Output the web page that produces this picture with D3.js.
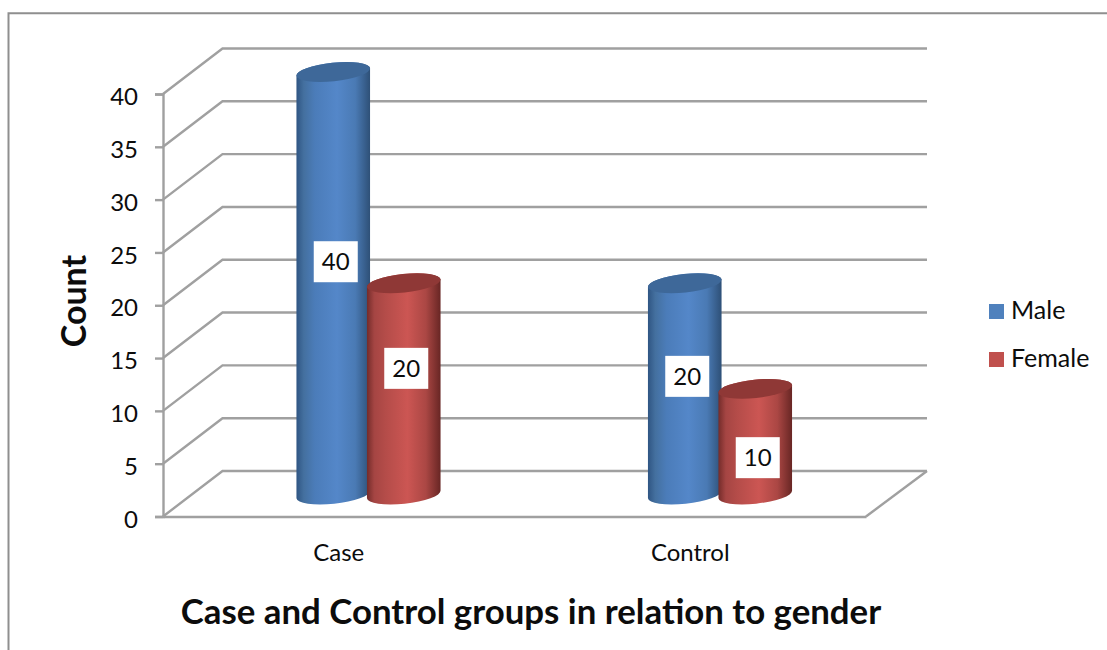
<!DOCTYPE html>
<html>
<head>
  <meta charset="utf-8">
  <script src="https://d3js.org/d3.v7.min.js"></script>
  <style>
    html, body { margin: 0; padding: 0; background: #fff; }
    svg { display: block; }
    text { font-family: Lato, "Open Sans", sans-serif; fill: #0c0c0c; }
  </style>
</head>
<body>
<script>
  var categories = ["Case", "Control"];
  var seriesNames = ["Male", "Female"];
  var male = [40, 20];
  var female = [20, 10];
  var yTicks = [0, 5, 10, 15, 20, 25, 30, 35, 40];

  var width = 1107, height = 650;

  // floor depth: how far the back wall sits from the front plane
  var depthX = 59.5, depthY = -45.5;
  var backRight = 927;
  var lineColor = "#a0a0a0";
  var colors = {
    Male: { cap: "#3e6899", swatch: "#4f81bd", stops: ["#2f5583", "#44709f", "#4b7cb9", "#5487c9", "#4a7ab4", "#2e5077"] },
    Female: { cap: "#8f3836", swatch: "#c0504d", stops: ["#742c2a", "#a54543", "#b44c49", "#cc5653", "#ab4744", "#682624"] }
  };

  var svg = d3.select("body").append("svg")
      .attr("width", width)
      .attr("height", height);

  var y = d3.scaleLinear().domain([0, 40]).range([516.5, 94]);
  var x = d3.scaleBand().domain(categories).range([163, 866]);
  var series = d3.scaleBand().domain(seriesNames).range([-70.5, 70.5]);

  // outer frame, open on the right and bottom
  svg.append("path")
      .attr("d", "M8.5,650V13.2H1107")
      .attr("fill", "none")
      .attr("stroke", "#8f8f8f")
      .attr("stroke-width", 2);

  // side wall and back wall grid
  var grid = svg.append("g")
      .attr("fill", "none")
      .attr("stroke", lineColor)
      .attr("stroke-width", 2.4);

  grid.selectAll("path.grid")
      .data(yTicks)
      .enter().append("path")
      .attr("class", "grid")
      .attr("d", function(d) {
        return "M163," + y(d) + "L" + (163 + depthX) + "," + (y(d) + depthY) + "H" + backRight;
      });

  grid.append("path")
      .attr("d", "M866," + y(0) + "L" + backRight + "," + (y(0) + depthY));

  // axes
  var yAxis = d3.axisLeft(y).tickValues(yTicks).tickSize(8).tickPadding(17);
  var xAxis = d3.axisBottom(x).tickSize(0).tickPadding(27);

  var yG = svg.append("g").attr("transform", "translate(163,0)").call(yAxis);
  var xG = svg.append("g").attr("transform", "translate(0," + y(0) + ")").call(xAxis);

  yG.selectAll("path, line").attr("stroke", lineColor).attr("stroke-width", 2.4);
  xG.selectAll("path").attr("stroke", lineColor).attr("stroke-width", 2.4);
  yG.selectAll("text").attr("dy", "0.44em").style("font-size", "24px").style("font-family", "Lato");
  xG.selectAll("text").style("font-size", "24px").style("font-family", "Lato");

  // gradients for the cylinder bodies
  var defs = svg.append("defs");
  var offsets = [0, 0.1, 0.25, 0.55, 0.8, 1];
  seriesNames.forEach(function(name) {
    defs.append("linearGradient")
        .attr("id", "body-" + name)
        .selectAll("stop")
        .data(colors[name].stops)
        .enter().append("stop")
        .attr("offset", function(d, i) { return offsets[i]; })
        .attr("stop-color", function(d) { return d; });
  });

  // cylinders stand halfway into the floor
  var rx = 37, ry = 9.2, tilt = -6;
  var dx = rx * Math.cos(tilt * Math.PI / 180);
  var dy = rx * Math.sin(tilt * Math.PI / 180);
  var midX = depthX / 2, midY = depthY * 0.484;

  var bars = [];
  categories.forEach(function(c, i) {
    bars.push({ cat: c, name: "Male", value: male[i] });
    bars.push({ cat: c, name: "Female", value: female[i] });
  });

  function cx(d) {
    return x(d.cat) + x.bandwidth() / 2 + midX + series(d.name) + series.bandwidth() / 2;
  }

  var bar = svg.selectAll("g.bar")
      .data(bars)
      .enter().append("g")
      .attr("class", "bar");

  bar.append("path")
      .attr("fill", function(d) { return "url(#body-" + d.name + ")"; })
      .attr("d", function(d) {
        var c = cx(d), top = y(d.value) + midY, base = y(0) + midY;
        var arc = "A" + rx + "," + ry + "," + tilt + ",0,";
        return "M" + (c - dx) + "," + (top - dy) +
          "V" + (base - dy) +
          arc + "0," + (c + dx) + "," + (base + dy) +
          "V" + (top + dy) +
          arc + "0," + (c - dx) + "," + (top - dy) + "Z";
      });

  bar.append("ellipse")
      .attr("rx", rx)
      .attr("ry", ry)
      .attr("fill", function(d) { return colors[d.name].cap; })
      .attr("transform", function(d) {
        return "translate(" + cx(d) + "," + (y(d.value) + midY) + ") rotate(" + tilt + ")";
      });

  // value labels sit where they were dragged by hand, so each has its own lift
  var labelLift = [21.5, 20.5, 12.5, -16];
  var label = svg.selectAll("g.label")
      .data(bars)
      .enter().append("g")
      .attr("class", "label")
      .attr("transform", function(d, i) {
        var mid = (y(d.value) + y(0)) / 2 + midY;
        return "translate(" + (cx(d) + 2.5) + "," + (mid - labelLift[i]) + ")";
      });

  label.append("rect")
      .attr("x", -22).attr("y", -20.5)
      .attr("width", 44).attr("height", 41)
      .attr("fill", "#fff");

  label.append("text")
      .attr("text-anchor", "middle")
      .attr("dy", "0.36em")
      .style("font-size", "24px")
      .text(function(d) { return d.value; });

  // legend
  var legend = svg.selectAll("g.legend")
      .data(seriesNames)
      .enter().append("g")
      .attr("class", "legend")
      .attr("transform", function(d, i) { return "translate(989," + (304 + i * 48) + ")"; });

  legend.append("rect")
      .attr("width", 15).attr("height", 15)
      .attr("fill", function(d) { return colors[d].swatch; });

  legend.append("text")
      .attr("x", 22).attr("y", 15)
      .style("font-size", "25px")
      .text(function(d) { return d; });

  // axis titles
  svg.append("text")
      .attr("x", 531).attr("y", 624)
      .attr("text-anchor", "middle")
      .style("font-size", "34.8px")
      .style("font-weight", 700)
      .text("Case and Control groups in relation to gender");

  svg.append("text")
      .attr("transform", "translate(86,301) rotate(-90)")
      .attr("text-anchor", "middle")
      .style("font-size", "34px")
      .style("font-weight", 700)
      .text("Count");
</script>
</body>
</html>
